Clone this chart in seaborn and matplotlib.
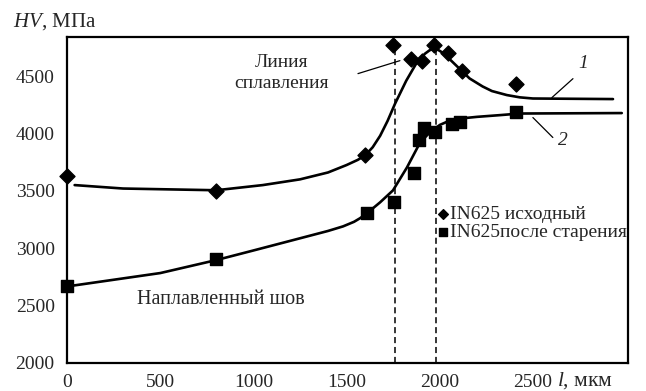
import numpy as np
import pandas as pd
import matplotlib
matplotlib.use("Agg")
import matplotlib.pyplot as plt
import seaborn as sns

sns.set_style("white")
plt.rcParams["font.family"] = ["Liberation Serif", "DejaVu Serif"]
plt.rcParams["mathtext.fontset"] = "custom"
plt.rcParams["mathtext.it"] = "Liberation Serif:italic"
plt.rcParams["mathtext.rm"] = "Liberation Serif"

# measured points
orig_x = [0, 800, 1600, 1750, 1845, 1905, 1968, 2044, 2119, 2409]
orig_hv = [3625, 3500, 3810, 4775, 4652, 4635, 4775, 4704, 4548, 4435]
aged_x = [0, 800, 1609, 1754, 1862, 1888, 1915, 1974, 2065, 2108, 2409]
aged_hv = [2670, 2905, 3304, 3400, 3652, 3939, 4052, 4009, 4087, 4104, 4183]

# fitted curves
curve1_x = [40, 300, 800, 1050, 1250, 1400, 1500, 1560, 1600, 1640, 1680, 1720, 1760,
            1820, 1870, 1920, 1945, 1965, 1990, 2020, 2090, 2160, 2230, 2280, 2360,
            2430, 2500, 2930]
curve1_hv = [3550, 3520, 3505, 3550, 3600, 3660, 3725, 3770, 3810, 3880, 3980, 4110, 4260,
             4460, 4600, 4695, 4725, 4738, 4730, 4700, 4590, 4480, 4410, 4370, 4335,
             4315, 4305, 4300]
curve2_x = [16, 500, 800, 1000, 1212, 1400, 1481, 1540, 1572, 1609, 1680, 1749, 1824,
            1894, 1935, 1963, 2001, 2050, 2108, 2200, 2323, 2430, 2977]
curve2_hv = [2670, 2783, 2896, 2980, 3070, 3150, 3190, 3230, 3261, 3304, 3400, 3504, 3704,
             3920, 3990, 4030, 4075, 4110, 4130, 4145, 4160, 4174, 4178]

fusion_lines = [1760, 1980]

fig = plt.figure(figsize=(6.46, 3.91), dpi=100)
ax = fig.add_axes([0.104, 0.072, 0.868, 0.833])

sns.lineplot(x=curve1_x, y=curve1_hv, ax=ax, color="black", linewidth=1.9, sort=False, estimator=None)
sns.lineplot(x=curve2_x, y=curve2_hv, ax=ax, color="black", linewidth=1.9, sort=False, estimator=None)

for xv in fusion_lines:
    ax.axvline(xv, color="black", linestyle=(0, (4, 2.5)), linewidth=1.1)

ax.scatter(orig_x, orig_hv, marker="D", s=58, color="black", zorder=5, clip_on=False,
           label="IN625 исходный")
ax.scatter(aged_x, aged_hv, marker="s", s=85, color="black", zorder=5, clip_on=False,
           label="IN625после старения")

ax.set_xlim(0, 3010)
ax.set_ylim(2000, 4840)
ax.set_xticks([0, 500, 1000, 1500, 2000, 2500])
ax.set_yticks([2000, 2500, 3000, 3500, 4000, 4500])
ax.tick_params(axis="both", direction="in", length=5, width=1.3, labelsize=14,
               top=False, right=False)
ax.tick_params(axis="x", pad=8)
ax.tick_params(axis="y", pad=9)
for sp in ax.spines.values():
    sp.set_linewidth(1.6)
    sp.set_color("black")

fig.text(0.02, 0.944, r"$HV$, МПа", fontsize=15, ha="left", va="center")
fig.text(0.862, 0.026, r"$l$, мкм", fontsize=15.5, ha="left", va="center")

ax.text(375, 2550, "Наплавленный шов", fontsize=14.5, ha="left", va="center")
ax.text(1153, 4617, "Линия", fontsize=14, ha="center", va="center")
ax.text(1153, 4435, "сплавления", fontsize=14, ha="center", va="center")
ax.plot([1561, 1786], [4522, 4635], color="black", linewidth=0.9)

ax.text(2768, 4609, "1", fontsize=14, style="italic", ha="center", va="center")
ax.plot([2602, 2715], [4313, 4478], color="black", linewidth=0.9)
ax.text(2661, 3939, "2", fontsize=14, style="italic", ha="center", va="center")
ax.plot([2500, 2607], [4139, 3965], color="black", linewidth=0.9)

leg = ax.legend(loc="upper left", bbox_to_anchor=(0.662, 0.484), frameon=False,
                fontsize=14, handlelength=0.5, handletextpad=0.1, borderaxespad=0,
                borderpad=0, labelspacing=0.05, markerscale=0.65)

fig.savefig("out.png", dpi=100)
